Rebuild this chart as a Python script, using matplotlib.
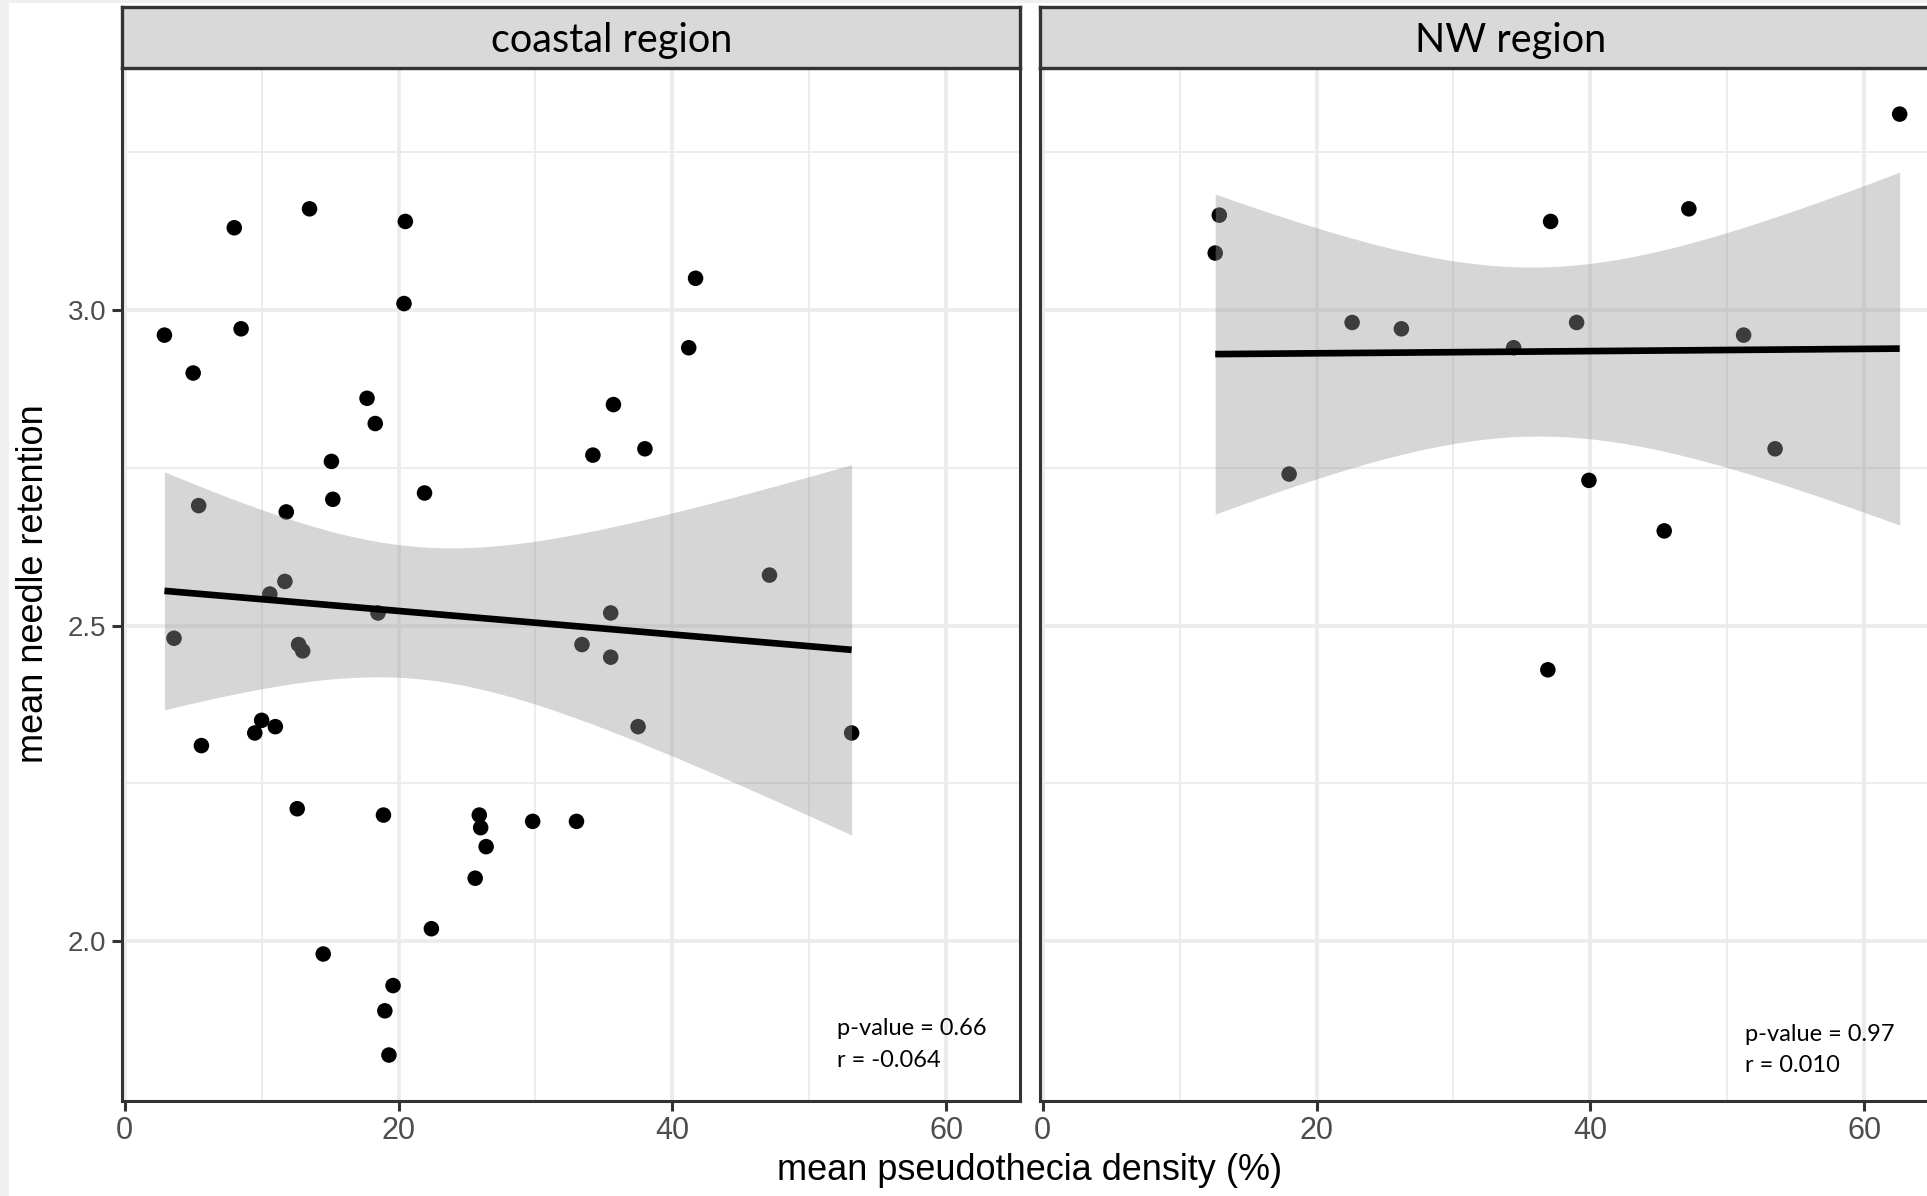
import numpy as np
import matplotlib
matplotlib.use("Agg")
import matplotlib.pyplot as plt
from matplotlib.patches import Rectangle
from matplotlib.ticker import MultipleLocator

# coastal sites: mean pseudothecia density (%) vs mean needle retention
coastal_x = [2.9, 5.0, 8.0, 8.5, 13.5, 20.5, 20.4, 5.4, 11.8, 17.7, 18.3, 15.1,
             15.2, 21.9, 11.7, 10.6, 3.6, 18.5, 12.7, 13.0, 5.6, 10.0, 9.5, 11.0,
             12.6, 18.9, 25.9, 26.0, 26.4, 29.8, 33.0, 25.6, 22.4, 14.5, 19.6, 19.0,
             19.3, 41.7, 41.2, 35.7, 34.2, 38.0, 47.1, 35.5, 33.4, 35.5, 37.5, 53.1]
coastal_y = [2.96, 2.90, 3.13, 2.97, 3.16, 3.14, 3.01, 2.69, 2.68, 2.86, 2.82, 2.76,
             2.70, 2.71, 2.57, 2.55, 2.48, 2.52, 2.47, 2.46, 2.31, 2.35, 2.33, 2.34,
             2.21, 2.20, 2.20, 2.18, 2.15, 2.19, 2.19, 2.10, 2.02, 1.98, 1.93, 1.89,
             1.82, 3.05, 2.94, 2.85, 2.77, 2.78, 2.58, 2.52, 2.47, 2.45, 2.34, 2.33]

# NW sites
nw_x = [12.9, 12.6, 37.1, 47.2, 62.6, 22.6, 26.2, 34.4, 39.0, 51.2,
        18.0, 39.9, 53.5, 45.4, 36.9]
nw_y = [3.15, 3.09, 3.14, 3.16, 3.31, 2.98, 2.97, 2.94, 2.98, 2.96,
        2.74, 2.73, 2.78, 2.65, 2.43]

panel_titles = ["coastal region", "NW region"]
stat_labels = [["p-value = 0.66", "r = -0.064"], ["p-value = 0.97", "r = 0.010"]]


def t975(df):
    # Cornish-Fisher approximation of the 97.5% t quantile
    z = 1.959964
    return z + (z**3 + z) / (4 * df) + (5 * z**5 + 16 * z**3 + 3 * z) / (96 * df**2)


def lm_band(x, y):
    x = np.asarray(x, float)
    y = np.asarray(y, float)
    n = len(x)
    b, a = np.polyfit(x, y, 1)
    resid = y - (a + b * x)
    s = np.sqrt(np.sum(resid**2) / (n - 2))
    sxx = np.sum((x - x.mean())**2)
    xs = np.linspace(x.min(), x.max(), 120)
    fit = a + b * xs
    se = s * np.sqrt(1.0 / n + (xs - x.mean())**2 / sxx)
    t = t975(n - 2)
    return xs, fit, fit - t * se, fit + t * se


W, H = 1927, 1196
fig = plt.figure(figsize=(W / 100, H / 100), dpi=100)
fig.patch.set_facecolor("#F0F0F0")
fig.patches.append(Rectangle((9 / W, 0), 1, (H - 3) / H, transform=fig.transFigure,
                             facecolor="white", edgecolor="none", zorder=-1))

dark = "#333333"
panel_left = [122 / W, 1040 / W]
pw = 898 / W
pb = (H - 1100.5) / H
pt = (H - 68) / H
strip_top = (H - 7) / H

datasets = [(coastal_x, coastal_y), (nw_x, nw_y)]
stat_pos = [(52.0, 1.862, 1.812), (51.3, 1.853, 1.803)]
title_x = [0.545, 0.524]

for i, (xd, yd) in enumerate(datasets):
    ax = fig.add_axes([panel_left[i], pb, pw, pt - pb])
    ax.set_facecolor("white")
    ax.set_xlim(-0.2, 65.4)
    ax.set_ylim(1.748, 3.383)

    ax.xaxis.set_major_locator(MultipleLocator(20))
    ax.xaxis.set_minor_locator(MultipleLocator(10))
    ax.set_yticks([2.0, 2.5, 3.0])
    ax.set_yticks([2.25, 2.75, 3.25], minor=True)
    ax.grid(which="major", color="#EBEBEB", lw=2.6)
    ax.grid(which="minor", color="#EBEBEB", lw=1.3)
    ax.set_axisbelow(True)

    ax.scatter(xd, yd, s=125, color="black", edgecolors="none", zorder=3)
    xs, fit, lo, hi = lm_band(xd, yd)
    ax.fill_between(xs, lo, hi, color="#999999", alpha=0.4, lw=0, zorder=4)
    ax.plot(xs, fit, color="black", lw=4.8, zorder=5, solid_capstyle="butt")

    for sp in ax.spines.values():
        sp.set_color(dark)
        sp.set_linewidth(2.2)

    ax.tick_params(which="major", direction="out", length=7.5, width=2.2, color=dark,
                   labelcolor="#4D4D4D", labelsize=22, pad=4)
    ax.tick_params(which="minor", length=0)
    ax.tick_params(axis="y", labelsize=20)
    ax.set_yticklabels(["2.0", "2.5", "3.0"], family="Liberation Sans")
    for lab in ax.get_xticklabels():
        lab.set_family("Liberation Sans")
    if i == 1:
        ax.tick_params(axis="y", left=False, labelleft=False)

    sx, sy1, sy2 = stat_pos[i]
    ax.text(sx, sy1, stat_labels[i][0], fontsize=17, family="Lato", va="center", zorder=6)
    ax.text(sx, sy2, stat_labels[i][1], fontsize=17, family="Lato", va="center", zorder=6)

    # facet strip
    sax = fig.add_axes([panel_left[i], pt, pw, strip_top - pt])
    sax.set_facecolor("#D9D9D9")
    sax.set_xticks([])
    sax.set_yticks([])
    for sp in sax.spines.values():
        sp.set_color(dark)
        sp.set_linewidth(2.4)
    sax.text(title_x[i], 0.45, panel_titles[i], transform=sax.transAxes, ha="center",
             va="center", fontsize=28.5, family="Lato", color="black")

fig.text(34 / W, (H - 584) / H, "mean needle retention", rotation=90, ha="center",
         va="center", fontsize=26, family="Liberation Sans")
fig.text(1030 / W, (H - 1171) / H, "mean pseudothecia density (%)", ha="center",
         va="center", fontsize=26, family="Liberation Sans")

fig.savefig("out.png", dpi=100, facecolor=fig.get_facecolor())
